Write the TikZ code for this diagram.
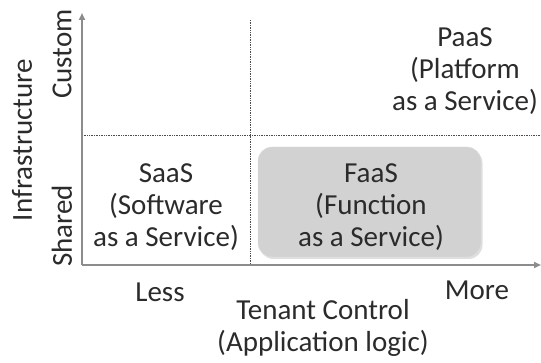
\documentclass[tikz,border=0pt]{standalone}
\usepackage{fontspec}
\setmainfont{Carlito}
\usetikzlibrary{arrows.meta,shadows}
\definecolor{txt}{HTML}{2B2B2B}
\definecolor{axisgray}{HTML}{8C8C8C}
\definecolor{boxgray}{HTML}{D2D2D2}
\tikzset{
  lbl/.style={font=\fontsize{29}{32}\selectfont, text=txt, align=center, inner sep=0pt},
  axisline/.style={draw=axisgray, line width=2pt, -{Triangle[length=7pt,width=6pt]}},
  divider/.style={draw=black!70, densely dotted, line width=0.7pt},
  faasbox/.style={fill=boxgray, draw=black!12, rounded corners=14pt,
    drop shadow={opacity=0.25, shadow xshift=1.5pt, shadow yshift=-2pt}}
}
\begin{document}
\begin{tikzpicture}[x=1pt,y=-1pt]
  \useasboundingbox (0,0) rectangle (541,363);
  % quadrant dividers
  \coordinate (vtop) at (250.7,20);
  \coordinate (vbot) at (250.7,264);
  \coordinate (hl) at (82,135);
  \coordinate (hr) at (540,135);
  \draw[divider] (vtop) -- (vbot);
  \draw[divider] (hl) -- (hr);
  % FaaS region
  \node[faasbox, minimum width=223pt, minimum height=110pt] (faasbg) at (369.5,202) {};
  % axes
  \coordinate (origin) at (82,265);
  \coordinate (ytip) at (82,13);
  \coordinate (xtip) at (541,265);
  \draw[axisline] (origin) -- (ytip);
  \draw[axisline] (origin) -- (xtip);
  % quadrant labels
  \node[lbl] (saas) at (166,207) {SaaS\\(Software\\as a Service)};
  \node[lbl] (faas) at (371,207) {FaaS\\(Function\\as a Service)};
  \node[lbl] (paas) at (465,71) {PaaS\\(Platform\\as a Service)};
  % axis labels
  \node[lbl, rotate=90] (infra) at (22,140) {Infrastructure};
  \node[lbl, rotate=90] (custom) at (62,54) {Custom};
  \node[lbl, rotate=90] (shared) at (62,226) {Shared};
  \node[lbl] (less) at (160,292) {Less};
  \node[lbl] (more) at (477,290) {More};
  \node[lbl] (tenant) at (323,328) {Tenant Control\\(Application logic)};
\end{tikzpicture}
\end{document}
